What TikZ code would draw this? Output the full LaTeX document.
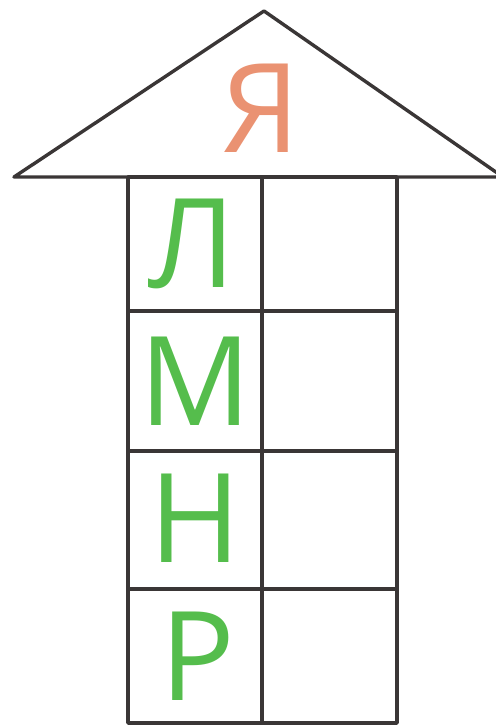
\documentclass[tikz,border=0pt]{standalone}
\usepackage{fontspec}
\setmainfont{Open Sans}
\definecolor{FrameGray}{HTML}{3A3636}
\definecolor{LetterGreen}{HTML}{55BD4C}
\definecolor{TraceOrange}{HTML}{EA9272}

\tikzset{
  frame/.style={draw=FrameGray, line width=3.4bp, line join=round},
  letter/.style={inner sep=0pt, anchor=base,
                 font=\fontsize{124bp}{124bp}\selectfont}
}

\begin{document}
\begin{tikzpicture}[x=1bp,y=1bp]
        \useasboundingbox (0,0) rectangle (496,725);
        \clip (0,0) rectangle (496,725);
        % roof
        \draw[frame] (14,548) -- (264,714) -- (503,548) -- cycle;
        % two columns, four rows
        \draw[frame] (128,548) rectangle (397,2);
        \draw[frame] (262,548) -- (262,2);
        \draw[frame] (128,414) -- (397,414);
        \draw[frame] (128,274) -- (397,274);
        \draw[frame] (128,136) -- (397,136);
        % letters
        \node[letter, text=TraceOrange] (roofletter) at (261,572) {Я};
        \node[letter, text=LetterGreen] (el) at (192,437) {Л};
        \node[letter, text=LetterGreen] (em) at (195,299) {М};
        \node[letter, text=LetterGreen] (en) at (195,162) {Н};
        \node[letter, text=LetterGreen] (er) at (198,24) {Р};
      \end{tikzpicture}
\end{document}
